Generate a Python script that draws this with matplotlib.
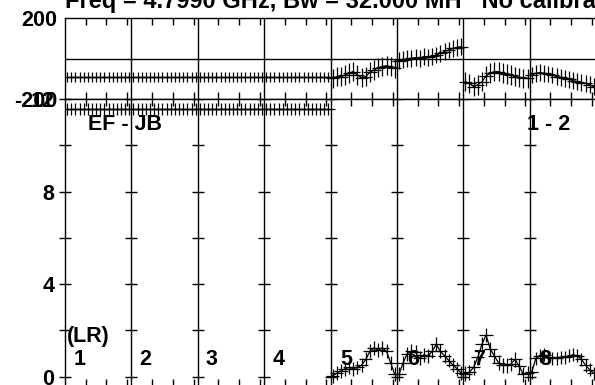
import numpy as np
import matplotlib
matplotlib.use("Agg")
from matplotlib import pyplot as plt

plt.rcParams["font.family"] = ["Liberation Sans", "DejaVu Sans"]
plt.rcParams["font.weight"] = "bold"

# Data: 8 IFs x 16 channels, phase (deg) and amplitude
n_chan = 16
if_labels = ["1", "2", "3", "4", "5", "6", "7", "8"]

phase_flat = [-90, -90, -90, -90, -90, -90, -90, -90, -90, -90, -90, -90, -90, -90, -90, -90]
phase_if5 = [-97, -89, -89, -81, -72, -64, -81, -94, -89, -67, -56, -45, -40, -35, -40, -48]
phase_if6 = [-11, -6, -1, 2, 5, 2, 10, 8, 13, 18, 27, 35, 43, 52, 55, 60]
phase_if7 = [-114, -122, -139, -130, -114, -86, -72, -64, -64, -72, -76, -81, -89, -92, -97, -97]
phase_if8 = [-81, -72, -69, -72, -76, -81, -89, -92, -97, -102, -109, -114, -119, -122, -130, -139]

amp_flat = [11.55, 11.55, 11.55, 11.55, 11.55, 11.55, 11.55, 11.55,
            11.55, 11.55, 11.55, 11.55, 11.55, 11.55, 11.55, 11.55]
amp_if5 = [0.05, 0.15, 0.25, 0.35, 0.40, 0.35, 0.40, 0.50, 0.75, 1.10, 1.25, 1.15, 1.25, 1.10, 0.60, 0.10]
amp_if6 = [0.10, 0.60, 1.00, 1.10, 1.05, 0.80, 0.95, 0.90, 1.10, 1.40, 1.10, 0.90, 0.70, 0.50, 0.35, 0.15]
amp_if7 = [0.13, 0.20, 0.40, 0.84, 1.40, 1.80, 1.20, 0.90, 0.60, 0.50, 0.50, 0.55, 0.75, 0.45, 0.10, 0.15]
amp_if8 = [0.20, 0.80, 0.90, 0.95, 0.85, 0.80, 0.80, 0.85, 0.85, 0.90, 0.95, 0.90, 0.75, 0.50, 0.30, 0.15]

# rough size of the vertical bars per IF
phase_err = [24, 24, 24, 24, 48, 42, 48, 42]
amp_err = [0.26, 0.26, 0.26, 0.26, 0.30, 0.30, 0.32, 0.28]

phase = [phase_flat, phase_flat, phase_flat, phase_flat, phase_if5, phase_if6, phase_if7, phase_if8]
amp = [amp_flat, amp_flat, amp_flat, amp_flat, amp_if5, amp_if6, amp_if7, amp_if8]

title = "Freq = 4.7990 GHz, Bw = 32.000 MH   No calibration"
baseline_name = "EF - JB"
pol_label = "(LR)"
ant_pair = "1 - 2"

FS = 15.5
W, H = 595, 385
fig = plt.figure(figsize=(W / 100, H / 100), dpi=100)

left = 65 / W
width = (596 - 65) / W
ax_ph = fig.add_axes([left, 1 - 99 / H, width, (99 - 18.3) / H])
ax_amp = fig.add_axes([left, 1 - 386 / H, width, (386 - 99) / H])

n_if = len(if_labels)
x_all = []
for k in range(n_if):
    x_all.append(k * n_chan + np.arange(1, n_chan + 1) - 0.5)

for ax, series, errs in [(ax_ph, phase, phase_err), (ax_amp, amp, amp_err)]:
    for k in range(n_if):
        ax.plot(x_all[k], series[k], color="black", lw=0.9)
        ax.errorbar(x_all[k], series[k], xerr=1.6, yerr=errs[k], fmt="none",
                    ecolor="black", elinewidth=0.9, capsize=0)
    for k in range(1, n_if):
        ax.axvline(k * n_chan, color="black", lw=1)
    ax.set_xlim(0, n_if * n_chan)
    ticks = [k * n_chan + t for k in range(n_if) for t in (5, 10, 15)]
    ax.set_xticks(ticks)
    ax.set_xticklabels([])
    ax.tick_params(axis="x", which="both", direction="in", length=5, width=1,
                   top=True, bottom=True)
    for sp in ax.spines.values():
        sp.set_linewidth(1)

# phase panel
ax_ph.set_ylim(-200, 200)
ax_ph.axhline(0, color="black", lw=1)
ax_ph.set_yticks([-200, 200])
ax_ph.set_yticklabels(["-200", "200"])
ax_ph.tick_params(axis="y", length=0, pad=8 * 0.72, labelsize=FS)

# amplitude panel
ax_amp.set_ylim(-0.4, 12)
ax_amp.set_yticks([0, 4, 8, 12])
ax_amp.set_yticks([2, 6, 10], minor=True)
ax_amp.tick_params(axis="y", which="both", direction="inout", length=9, width=1,
                   pad=3, labelsize=FS)
for k in range(1, n_if):
    for v in range(0, 13, 2):
        ax_amp.plot(k * n_chan, v, marker="_", markersize=9, mew=1, color="black")

for k, lab in enumerate(if_labels):
    off = 2.0 if k < 4 else 2.4
    ax_amp.text(k * n_chan + off, 0.5, lab, fontsize=FS, fontweight="bold",
                va="baseline", ha="left")
ax_amp.text(0.5, 1.5, pol_label, fontsize=FS, fontweight="bold", va="baseline", ha="left")
ax_amp.text(5.5, 10.66, baseline_name, fontsize=FS, fontweight="bold", va="baseline", ha="left")
ax_amp.text(111.3, 10.66, ant_pair, fontsize=FS, fontweight="bold", va="baseline", ha="left")

fig.text(left, 1 - 8 / H, title, fontsize=17, fontweight="bold", va="baseline", ha="left")

fig.savefig("out.png", dpi=100)
